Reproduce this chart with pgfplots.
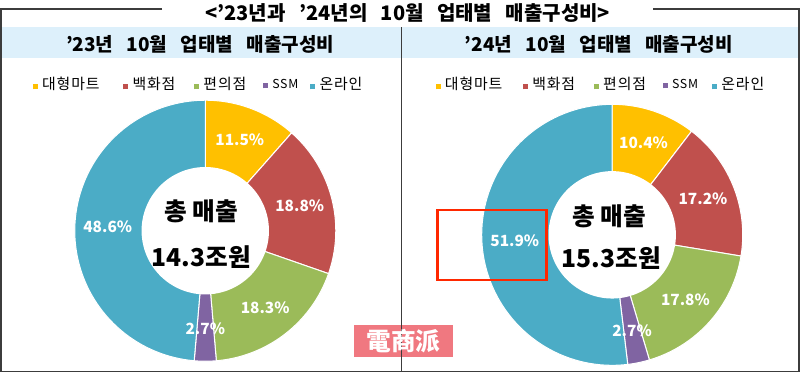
\documentclass[border=0pt]{standalone}
\usepackage{fontspec}
\setmainfont{Noto Sans CJK KR}
\newfontfamily\scfont{Noto Sans CJK SC}
\usepackage{pgfplots}
\pgfplotsset{compat=1.18}
\definecolor{cY}{RGB}{255,192,0}
\definecolor{cR}{RGB}{192,80,77}
\definecolor{cG}{RGB}{155,187,89}
\definecolor{cP}{RGB}{128,100,162}
\definecolor{cB}{RGB}{75,172,198}
\definecolor{band}{RGB}{221,240,251}
\definecolor{frm}{RGB}{60,60,60}
\definecolor{mk}{RGB}{255,40,0}
\definecolor{wm}{RGB}{240,120,128}
\newcommand\pctfont{\fontsize{15}{16}\selectfont\bfseries}
\newcommand\legfont{\fontsize{14.5}{16}\selectfont\addfontfeature{LetterSpace=6}}
\pgfplotsset{base/.style={hide axis, scale only axis, width=800pt, height=377pt,
  xmin=0, xmax=800, ymin=0, ymax=377, y dir=reverse, clip=false}}
% #1 cx, #2 cy, #3 total, #4 list value/colour
\newcommand\donut[4]{%
  \xdef\cum{0}%
  \pgfmathsetmacro\fac{360/#3}%
  \foreach \v/\c in {#4} {%
    \pgfmathsetmacro\aS{90-\fac*\cum}%
    \pgfmathsetmacro\newcum{\cum+\v}%
    \xdef\cum{\newcum}%
    \pgfmathsetmacro\aE{90-\fac*\cum}%
    \edef\tmp{\noexpand\addplot[fill=\c, draw=white, line width=1pt, domain=\aE:\aS, samples=80]
      ({#1+127*cos(x)},{#2-127*sin(x)}) -- (axis cs:#1,#2) -- cycle;}%
    \tmp
  }%
  \addplot[fill=white, draw=none, domain=0:360, samples=120] ({#1+62*cos(x)},{#2-62*sin(x)}) -- cycle;
  \xdef\cum{0}%
  \foreach \v/\c in {#4} {%
    \pgfmathsetmacro\aS{90-\fac*\cum}%
    \pgfmathsetmacro\newcum{\cum+\v}%
    \xdef\cum{\newcum}%
    \pgfmathsetmacro\aE{90-\fac*\cum}%
    \pgfmathsetmacro\aM{(\aS+\aE)/2}%
    \pgfmathsetmacro\lx{#1+95*cos(\aM)}%
    \pgfmathsetmacro\ly{#2-95*sin(\aM)}%
    \edef\tmp{\noexpand\node[text=white, font=\noexpand\pctfont] at (axis cs:\lx,\ly) {\v\noexpand\%};}%
    \tmp
  }%
}
\newcommand\mylegend[6]{% x positions of squares, y
  \node[anchor=west, font=\legfont, inner sep=0pt] at (axis cs:#1,#6) {\textcolor{cY}{\rule{5pt}{5pt}}\hspace{4pt}대형마트};
  \node[anchor=west, font=\legfont, inner sep=0pt] at (axis cs:#2,#6) {\textcolor{cR}{\rule{5pt}{5pt}}\hspace{4pt}백화점};
  \node[anchor=west, font=\legfont, inner sep=0pt] at (axis cs:#3,#6) {\textcolor{cG}{\rule{5pt}{5pt}}\hspace{4pt}편의점};
  \node[anchor=west, font=\legfont, inner sep=0pt] at (axis cs:#4,#6) {\textcolor{cP}{\rule{5pt}{5pt}}\hspace{4pt}{\fontsize{12}{14}\selectfont SSM}};
  \node[anchor=west, font=\legfont, inner sep=0pt] at (axis cs:#5,#6) {\textcolor{cB}{\rule{5pt}{5pt}}\hspace{4pt}온라인};
}
\newcommand\wsp{\hspace{13pt}}
\begin{document}
\begin{tikzpicture}
\begin{axis}[base]
  \fill[band] (axis cs:9,33) rectangle (axis cs:784,63);
  \node[font=\fontsize{19.5}{20}\selectfont\bfseries] at (axis cs:404,19) {<’23년과\wsp{}’24년의\wsp{}10월\wsp{}업태별\wsp{}매출구성비>};
  \node[font=\fontsize{18.5}{20}\selectfont\bfseries] at (axis cs:202,50) {’23년\wsp{}10월\wsp{}업태별\wsp{}매출구성비};
  \node[font=\fontsize{18.5}{20}\selectfont\bfseries] at (axis cs:590,50) {’24년\wsp{}10월\wsp{}업태별\wsp{}매출구성비};
  \mylegend{39}{127}{196}{263}{309}{88}
  \donut{207}{231}{99.9}{11.5/cY,18.8/cR,18.3/cG,2.7/cP,48.6/cB}
  \node[font=\fontsize{24}{26}\selectfont\bfseries] at (axis cs:203,212) {총 매출};
  \node[font=\fontsize{24}{26}\selectfont\bfseries] at (axis cs:203,257) {14.3조원};
\end{axis}
\begin{axis}[base]
  \mylegend{431}{516}{585}{652}{700}{88}
  \donut{603}{235}{100}{10.4/cY,17.2/cR,17.8/cG,2.7/cP,51.9/cB}
  \node[font=\fontsize{24}{26}\selectfont\bfseries] at (axis cs:600,217) {총 매출};
  \node[font=\fontsize{24}{26}\selectfont\bfseries] at (axis cs:602,258) {15.3조원};
  \draw[mk, line width=2.5pt] (axis cs:433,211) rectangle (axis cs:539,279);
  \fill[wm] (axis cs:352,323) rectangle (axis cs:448,354);
  \draw[frm, line width=1.5pt] (axis cs:165,15) -- (axis cs:8,15) -- (axis cs:8,368) -- (axis cs:785,368) -- (axis cs:785,15) -- (axis cs:643,15);
  \draw[frm, line width=1.2pt] (axis cs:398,33) -- (axis cs:398,368);
  \node[text=white, font=\scfont\fontsize{24}{26}\selectfont\bfseries] at (axis cs:400,338.5) {電商派};
\end{axis}
\end{tikzpicture}
\end{document}
